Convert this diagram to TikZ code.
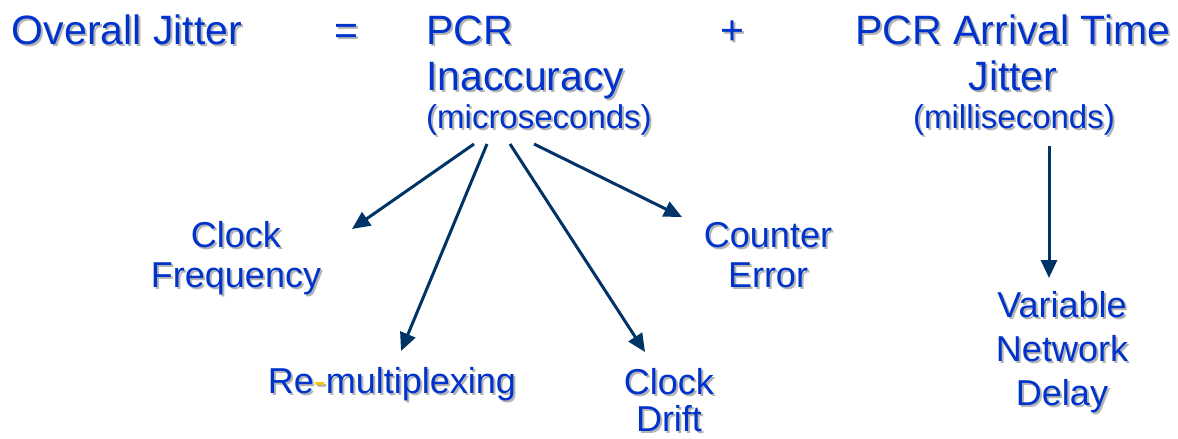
\documentclass[tikz,border=0pt]{standalone}
\usepackage{fontspec}
\setmainfont{Liberation Sans}
\usetikzlibrary{arrows.meta}
\definecolor{txtblue}{HTML}{0033CC}
\definecolor{arrowblue}{HTML}{003366}
\definecolor{shadowgray}{HTML}{B4B4B4}
\definecolor{hyphencol}{HTML}{F2C500}
\newcommand{\hyc}{\textcolor{hyphencol}{-}}
\newcommand{\sht}[1]{\leavevmode\rlap{\kern2pt\raisebox{-2pt}{\def\hyc{-}\color{shadowgray}#1}}#1}
\tikzset{
  big/.style={font=\fontsize{41}{46}\selectfont, text=txtblue, inner sep=0pt},
  unit/.style={font=\fontsize{33}{37}\selectfont, text=txtblue, inner sep=0pt},
  med/.style={font=\fontsize{36}{40}\selectfont, text=txtblue, inner sep=0pt, align=center},
  conn/.style={draw=arrowblue, line width=3pt, -{Triangle[length=18pt,width=16pt]}}
}
\begin{document}
\begin{tikzpicture}[x=1pt,y=-1pt]
\useasboundingbox (0,0) rectangle (1178,439);
% top row
\node[big, anchor=base] (overall) at (127,44) {\sht{Overall Jitter}};
\node[big, anchor=base] (eq) at (346,44) {\sht{=}};
\node[big, anchor=base west, align=left] (pcr) at (426,90) {\sht{PCR}\\\sht{Inaccuracy}};
\node[unit, anchor=base west] (micro) at (426,128) {\sht{(microseconds)}};
\node[big, anchor=base] (plus) at (732,44) {\sht{+}};
\node[big, anchor=base, align=center] (arr) at (1013,90) {\sht{PCR Arrival Time}\\\sht{Jitter}};
\node[unit, anchor=base] (milli) at (1014,128) {\sht{(milliseconds)}};
% lower nodes
\node[med, anchor=base] (clkfreq) at (236,287) {\sht{Clock}\\\sht{Frequency}};
\node[med, anchor=base] (counter) at (768,287) {\sht{Counter}\\\sht{Error}};
\node[med, anchor=base] (remux) at (392,393) {\sht{Re\hyc multiplexing}};
\node[med, anchor=base] (drift) at (669,431) {\sht{Clock}\\[-3pt]\sht{Drift}};
\node[med, anchor=base, font=\fontsize{36}{44}\selectfont] (vnd) at (1062,405) {\sht{Variable}\\\sht{Network}\\\sht{Delay}};
% connector end points
\coordinate (t1) at (474,144);
\coordinate (t2) at (487,144);
\coordinate (t3) at (510,144);
\coordinate (t4) at (534,144);
\coordinate (t5) at (1049,146);
\coordinate (h1) at (352,229);
\coordinate (h2) at (401,351);
\coordinate (h3) at (645,352);
\coordinate (h4) at (682,217);
\coordinate (h5) at (1049,278);
\draw[conn] (t1) -- (h1);
\draw[conn] (t2) -- (h2);
\draw[conn] (t3) -- (h3);
\draw[conn] (t4) -- (h4);
\draw[conn] (t5) -- (h5);
\end{tikzpicture}
\end{document}
